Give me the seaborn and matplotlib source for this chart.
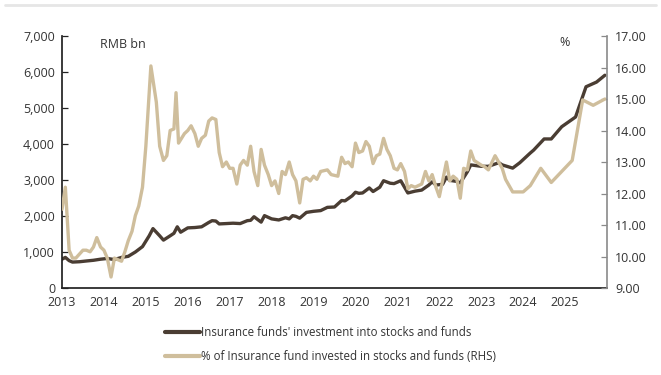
import matplotlib
matplotlib.use("Agg")
import matplotlib.pyplot as plt
from matplotlib.lines import Line2D
from matplotlib.ticker import FuncFormatter
import numpy as np
import pandas as pd
import seaborn as sns

# Insurance funds' holdings of stocks and funds, RMB bn (left axis)
amount_dates = [
    2013.00, 2013.08, 2013.17, 2013.25, 2013.42, 2013.58, 2013.75, 2013.92,
    2014.08, 2014.25, 2014.42, 2014.58, 2014.75, 2014.92, 2015.08, 2015.17,
    2015.33, 2015.42, 2015.58, 2015.67, 2015.75, 2015.83, 2016.00, 2016.17,
    2016.33, 2016.50, 2016.58, 2016.67, 2016.75, 2016.92, 2017.08, 2017.25,
    2017.42, 2017.50, 2017.58, 2017.67, 2017.75, 2017.83, 2018.00, 2018.17,
    2018.33, 2018.42, 2018.50, 2018.58, 2018.67, 2018.83, 2019.00, 2019.17,
    2019.33, 2019.50, 2019.67, 2019.75, 2019.92, 2020.00, 2020.08, 2020.17,
    2020.33, 2020.42, 2020.58, 2020.67, 2020.83, 2020.92, 2021.08, 2021.25,
    2021.42, 2021.58, 2021.75, 2021.83, 2021.92, 2022.08, 2022.17, 2022.25,
    2022.42, 2022.50, 2022.67, 2022.75, 2023.00, 2023.17, 2023.42, 2023.50,
    2023.75, 2023.92, 2024.17, 2024.25, 2024.50, 2024.67, 2024.92, 2025.25,
    2025.50, 2025.75, 2025.95,
]
amount_values = [
    800, 850, 760, 720, 730, 750, 770, 800,
    820, 790, 850, 880, 1000, 1150, 1450, 1650,
    1450, 1330, 1450, 1520, 1700, 1550, 1670, 1680,
    1700, 1820, 1870, 1860, 1780, 1790, 1800, 1790,
    1870, 1880, 1980, 1900, 1830, 2010, 1920, 1890,
    1950, 1920, 2010, 1990, 1940, 2100, 2130, 2150,
    2240, 2250, 2430, 2420, 2560, 2660, 2630, 2640,
    2780, 2680, 2800, 2980, 2910, 2900, 2980, 2640,
    2690, 2720, 2860, 2950, 2860, 2880, 3080, 2990,
    2960, 2920, 3230, 3420, 3380, 3380, 3480, 3420,
    3330, 3480, 3750, 3830, 4140, 4140, 4480, 4750,
    5590, 5720, 5910,
]

# Share of insurance funds invested in stocks and funds, % (right axis)
share_dates = [
    2013.00, 2013.08, 2013.17, 2013.25, 2013.33, 2013.50, 2013.58, 2013.67,
    2013.75, 2013.83, 2013.92, 2014.00, 2014.08, 2014.17, 2014.25, 2014.33,
    2014.42, 2014.50, 2014.58, 2014.67, 2014.75, 2014.83, 2014.92, 2015.00,
    2015.08, 2015.12, 2015.25, 2015.33, 2015.42, 2015.50, 2015.58, 2015.67,
    2015.72, 2015.78, 2015.92, 2016.00, 2016.08, 2016.17, 2016.25, 2016.33,
    2016.42, 2016.50, 2016.58, 2016.67, 2016.75, 2016.83, 2016.92, 2017.00,
    2017.08, 2017.17, 2017.25, 2017.33, 2017.42, 2017.50, 2017.58, 2017.67,
    2017.75, 2017.83, 2017.92, 2018.00, 2018.08, 2018.17, 2018.25, 2018.33,
    2018.42, 2018.50, 2018.58, 2018.67, 2018.75, 2018.83, 2018.92, 2019.00,
    2019.08, 2019.17, 2019.33, 2019.42, 2019.58, 2019.67, 2019.75, 2019.83,
    2019.92, 2020.00, 2020.08, 2020.17, 2020.25, 2020.33, 2020.42, 2020.50,
    2020.58, 2020.67, 2020.75, 2020.83, 2020.92, 2021.00, 2021.08, 2021.17,
    2021.25, 2021.33, 2021.42, 2021.50, 2021.58, 2021.67, 2021.75, 2021.83,
    2021.92, 2022.00, 2022.17, 2022.25, 2022.33, 2022.42, 2022.50, 2022.58,
    2022.67, 2022.75, 2022.83, 2023.00, 2023.08, 2023.17, 2023.33, 2023.50,
    2023.58, 2023.75, 2024.00, 2024.17, 2024.42, 2024.67, 2024.92, 2025.17,
    2025.42, 2025.67, 2025.95,
]
share_values = [
    11.50, 12.20, 10.20, 9.95, 9.95, 10.20, 10.20, 10.15,
    10.30, 10.60, 10.30, 10.20, 9.95, 9.35, 9.95, 9.90,
    9.85, 10.15, 10.50, 10.80, 11.30, 11.60, 12.20, 13.50,
    15.20, 16.05, 14.90, 13.50, 13.05, 13.20, 14.00, 14.05,
    15.20, 13.60, 13.90, 14.00, 14.15, 13.90, 13.50, 13.75,
    13.85, 14.30, 14.40, 14.35, 13.30, 12.85, 13.00, 12.80,
    12.80, 12.30, 12.90, 13.05, 12.90, 13.50, 12.70, 12.25,
    13.40, 12.90, 12.60, 12.25, 12.40, 12.00, 12.70, 12.60,
    13.00, 12.60, 12.40, 11.70, 12.45, 12.50, 12.40, 12.55,
    12.45, 12.70, 12.75, 12.60, 12.55, 13.15, 12.95, 13.00,
    12.85, 13.60, 13.30, 13.35, 13.65, 13.50, 12.95, 13.20,
    13.25, 13.75, 13.40, 13.20, 12.80, 12.75, 12.95, 12.70,
    12.15, 12.25, 12.20, 12.25, 12.30, 12.70, 12.40, 12.60,
    12.20, 11.90, 13.00, 12.40, 12.55, 12.45, 11.85, 12.80,
    12.75, 13.35, 13.05, 12.90, 12.85, 12.75, 13.20, 12.80,
    12.45, 12.05, 12.05, 12.25, 12.80, 12.35, 12.70, 13.05,
    14.97, 14.80, 15.00,
]

year_ticks = list(range(2013, 2026))
amount_ticks = [0, 1000, 2000, 3000, 4000, 5000, 6000, 7000]
share_ticks = [9, 10, 11, 12, 13, 14, 15, 16, 17]

amount_label = "Insurance funds' investment into stocks and funds"
share_label = "% of Insurance fund invested in stocks and funds (RHS)"

DARK = "#4a3d33"
TAN = "#cfbe9c"
TEXT = "#333333"

amount_df = pd.DataFrame({"date": amount_dates, "value": amount_values})
share_df = pd.DataFrame({"date": share_dates, "value": share_values})

sns.set_theme(style="white")
plt.rcParams["font.family"] = ["Open Sans", "DejaVu Sans"]
plt.rcParams["font.size"] = 9

fig = plt.figure(figsize=(6.61, 3.75), dpi=100)
ax = fig.add_axes([62 / 661, 1 - 288 / 375, 545 / 661, 252 / 375])
ax2 = ax.twinx()

sns.lineplot(data=amount_df, x="date", y="value", ax=ax, color=DARK,
             linewidth=2.4, legend=False)
sns.lineplot(data=share_df, x="date", y="value", ax=ax2, color=TAN,
             linewidth=2.4, legend=False)

ax.set_xlim(2013, 2026)
ax.set_ylim(0, 7000)
ax2.set_ylim(9, 17)

ax.set_xticks(year_ticks)
ax.set_xticklabels([str(y) for y in year_ticks])
ax.set_yticks(amount_ticks)
ax.yaxis.set_major_formatter(FuncFormatter(lambda v, p: f"{int(v):,}"))
ax2.set_yticks(share_ticks)
ax2.yaxis.set_major_formatter(FuncFormatter(lambda v, p: f"{v:.2f}"))

for a in (ax, ax2):
    a.set_xlabel("")
    a.set_ylabel("")
    a.grid(False)
    a.spines["top"].set_visible(False)

ax.spines["right"].set_visible(False)
ax.spines["left"].set_color("#222222")
ax.spines["bottom"].set_color("#222222")
ax2.spines["left"].set_visible(False)
ax2.spines["bottom"].set_visible(False)
ax2.spines["right"].set_color("#8a8a8a")
ax2.spines["right"].set_linewidth(1.2)

ax.tick_params(axis="both", direction="in", length=4, width=0.9,
               colors="#222222", labelcolor=TEXT, labelsize=9, pad=5)
ax.tick_params(axis="x", pad=6)
ax2.tick_params(axis="y", direction="in", length=4, width=0.9,
                colors="#8a8a8a", labelcolor=TEXT, labelsize=9, pad=6)

ax.text(0.07, 0.968, "RMB bn", transform=ax.transAxes, ha="left",
        va="center", fontsize=9, color=TEXT)
ax.text(0.923, 0.975, "%", transform=ax.transAxes, ha="center",
        va="center", fontsize=9, color=TEXT)

handles = [Line2D([], [], color=DARK, linewidth=3),
           Line2D([], [], color=TAN, linewidth=3)]
fig.legend(handles, [amount_label, share_label], loc="upper left",
           bbox_to_anchor=(165 / 661, 1 - 326 / 375), frameon=False,
           handlelength=3.0, handletextpad=0.1, labelspacing=0.95,
           borderpad=0, borderaxespad=0,
           prop={"size": 8.3}, labelcolor=TEXT)

# thin rule across the top of the panel
fig.add_artist(Line2D([0.008, 0.992], [0.988, 0.988], transform=fig.transFigure,
                      color="#e6e6e6", linewidth=2))

fig.savefig("out.png", dpi=100)
